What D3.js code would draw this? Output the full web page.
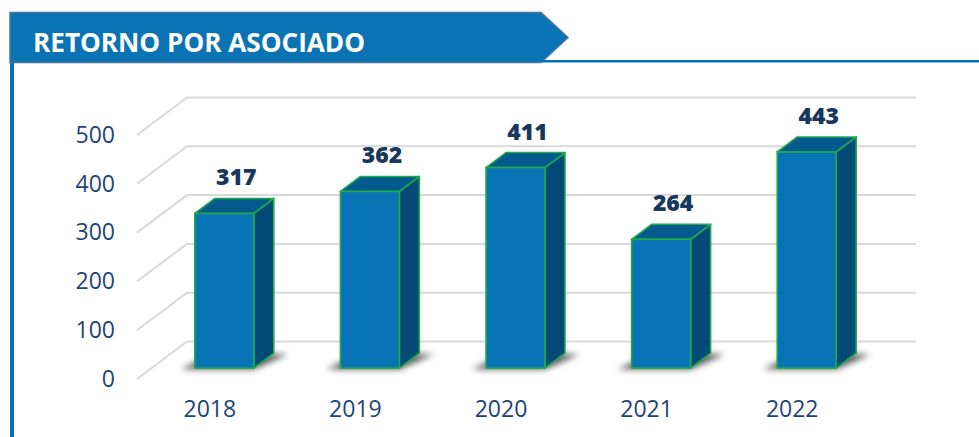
<!DOCTYPE html>
<html>
<head>
<meta charset="utf-8">
<script src="https://cdn.jsdelivr.net/npm/d3@7"></script>
<style>
  body { margin: 0; background: #fff; }
  svg { display: block; }
</style>
</head>
<body>
<div id="chart"></div>
<script>
const years = ["2018", "2019", "2020", "2021", "2022"];
const values = [317, 362, 411, 264, 443];
const yTicks = [0, 100, 200, 300, 400, 500];
const title = "RETORNO POR ASOCIADO";

const W = 979, H = 437;
const depthX = 50, depthY = -37.5;   // full floor depth
const barFront = 0.29, barBack = 0.69; // bar position inside the depth

const svg = d3.select("#chart")
    .append("svg")
    .attr("width", W)
    .attr("height", H);

const defs = svg.append("defs");
defs.append("filter")
    .attr("id", "blur")
    .attr("x", "-50%").attr("y", "-50%")
    .attr("width", "200%").attr("height", "200%")
    .append("feGaussianBlur")
    .attr("stdDeviation", 3);

// header banner
svg.append("path")
    .attr("d", "M10,12.5 L541,12.5 L568,37.5 L541,62.5 L10,62.5 Z")
    .attr("fill", "#0a73b4")
    .attr("stroke", "#4a73a0")
    .attr("stroke-width", 1.5);

svg.append("rect")
    .attr("x", 541).attr("y", 60)
    .attr("width", W - 541).attr("height", 2.5)
    .attr("fill", "#0a70b6");

svg.append("rect")
    .attr("x", 10).attr("y", 63)
    .attr("width", 4).attr("height", H - 63)
    .attr("fill", "#0a70b6");

svg.append("text")
    .attr("x", 33)
    .attr("y", 52)
    .attr("textLength", 332)
    .attr("lengthAdjust", "spacingAndGlyphs")
    .style("font-family", "'Open Sans', sans-serif")
    .style("font-weight", "bold")
    .style("font-size", "26px")
    .style("fill", "#fff")
    .text(title);

// scales (front plane)
const x = d3.scaleBand()
    .domain(years)
    .range([137, 865]);

const y = d3.scaleLinear()
    .domain([0, 500])
    .range([379, 135]);

// 3d grid: side wall diagonals + back wall lines
const grid = svg.append("g")
    .attr("stroke", "#d9d9d9")
    .attr("stroke-width", 2)
    .attr("fill", "none");

grid.selectAll("path")
    .data(yTicks)
    .join("path")
    .attr("d", d => `M${x.range()[0]},${y(d)} L${x.range()[0] + depthX},${y(d) + depthY} L916,${y(d) + depthY}`);

// axes
const yAxis = svg.append("g")
    .attr("transform", `translate(${x.range()[0]},0)`)
    .call(d3.axisLeft(y).tickValues(yTicks).tickSize(0).tickPadding(22));
yAxis.select(".domain").remove();
yAxis.selectAll(".tick text")
    .style("font-family", "'Open Sans', sans-serif")
    .style("font-size", "23px")
    .style("fill", "#1d4577");

const xAxis = svg.append("g")
    .attr("transform", `translate(0,${y(0)})`)
    .call(d3.axisBottom(x).tickSize(0).tickPadding(22));
xAxis.select(".domain").remove();
xAxis.selectAll(".tick text")
    .style("font-family", "'Open Sans', sans-serif")
    .style("font-size", "23px")
    .style("fill", "#1d4577");

// bars
const data = years.map((yr, i) => ({ year: yr, value: values[i] }));
const bw = x.bandwidth() * 0.405;
const dX = depthX * (barBack - barFront), dY = depthY * (barBack - barFront);

function geom(d) {
    const x0 = x(d.year) + x.bandwidth() / 2 - bw / 2 + depthX * barFront;
    const yb = y(0) + depthY * barFront;
    const yt = y(d.value) + depthY * barFront;
    return { x0, x1: x0 + bw, yb, yt };
}

const bars = svg.append("g")
    .selectAll("g")
    .data(data)
    .join("g");

bars.append("path")
    .attr("fill", "#3a3a3a")
    .attr("opacity", 0.85)
    .attr("filter", "url(#blur)")
    .attr("d", d => {
        const g = geom(d);
        return `M${g.x0 - 14},${g.yb + 1} L${g.x1},${g.yb + 1} L${g.x1 + dX + 14},${g.yb + dY + 1} L${g.x0 + dX},${g.yb + dY} Z`;
    });

const edge = { stroke: "#1fab4c", width: 1.6 };

bars.append("path")
    .attr("fill", "#034b76")
    .attr("stroke", edge.stroke)
    .attr("stroke-width", edge.width)
    .attr("stroke-linejoin", "round")
    .attr("d", d => {
        const g = geom(d);
        return `M${g.x1},${g.yt} L${g.x1 + dX},${g.yt + dY} L${g.x1 + dX},${g.yb + dY} L${g.x1},${g.yb} Z`;
    });

bars.append("path")
    .attr("fill", "#045a8e")
    .attr("stroke", edge.stroke)
    .attr("stroke-width", edge.width)
    .attr("stroke-linejoin", "round")
    .attr("d", d => {
        const g = geom(d);
        return `M${g.x0},${g.yt} L${g.x0 + dX},${g.yt + dY} L${g.x1 + dX},${g.yt + dY} L${g.x1},${g.yt} Z`;
    });

bars.append("rect")
    .attr("fill", "#0873b5")
    .attr("stroke", edge.stroke)
    .attr("stroke-width", edge.width)
    .attr("x", d => geom(d).x0)
    .attr("y", d => geom(d).yt)
    .attr("width", bw)
    .attr("height", d => geom(d).yb - geom(d).yt);

bars.append("text")
    .attr("x", d => geom(d).x0 + bw / 2 + 12)
    .attr("y", d => geom(d).yt + dY - 13)
    .attr("text-anchor", "middle")
    .style("font-family", "'Open Sans', sans-serif")
    .style("font-weight", "800")
    .style("font-size", "23px")
    .style("fill", "#17375e")
    .text(d => d.value);
</script>
</body>
</html>
